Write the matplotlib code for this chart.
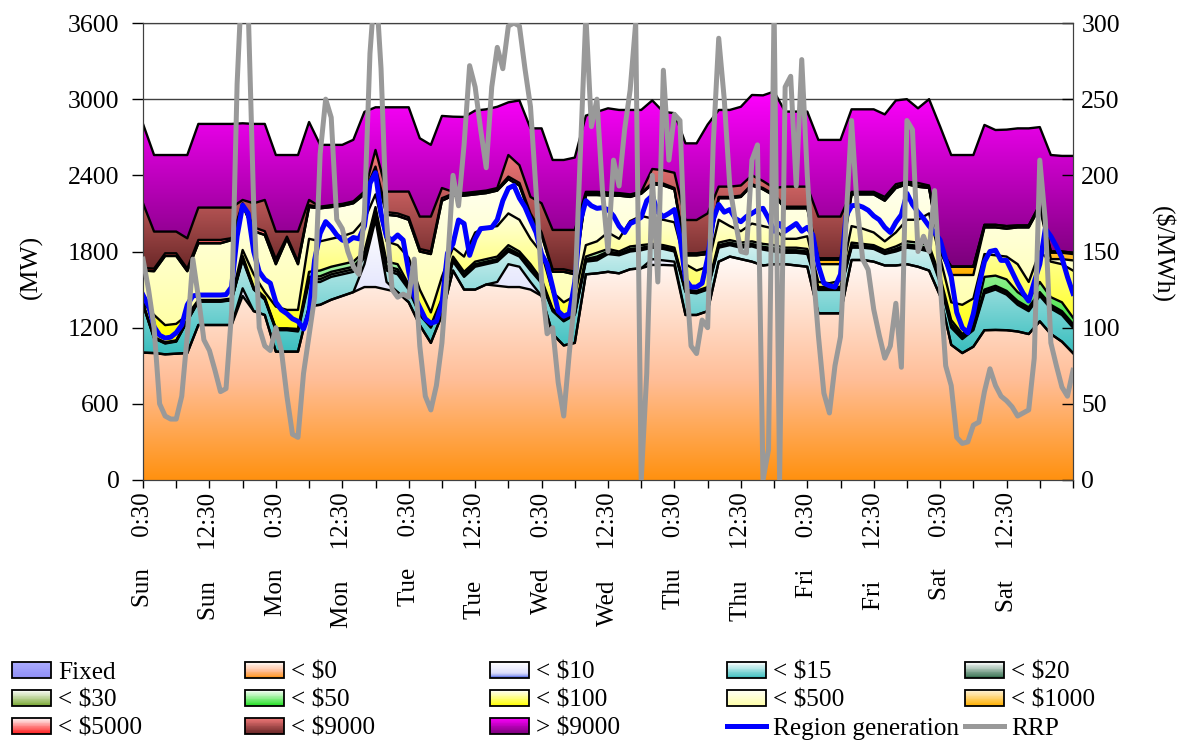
import numpy as np
import matplotlib
matplotlib.use("Agg")
import matplotlib.pyplot as plt
from matplotlib.colors import LinearSegmentedColormap
from matplotlib.patches import Rectangle, Patch
from matplotlib.lines import Line2D
from matplotlib.legend_handler import HandlerBase

plt.rcParams['font.family'] = ['Liberation Serif', 'DejaVu Serif']
FS = 18.5

# ---------------------------------------------------------------------------
# Week of half-hourly dispatch, sampled every 2 h for the price bands (MW per
# band, stacked bottom to top) and hourly for the two lines.
# Rows: Sun, Mon, Tue, Wed, Thu, Fri, Sat, then the closing sample.
# ---------------------------------------------------------------------------
tick_labels = ['Sun     0:30', 'Sun     12:30', 'Mon     0:30', 'Mon     12:30',
               'Tue     0:30', 'Tue     12:30', 'Wed     0:30', 'Wed     12:30',
               'Thu     0:30', 'Thu     12:30', 'Fri     0:30', 'Fri     12:30',
               'Sat     0:30', 'Sat     12:30']

fixed_mw = [0, 0, 0, 0, 0, 0, 0, 0, 0, 0, 0, 0,
            0, 0, 0, 0, 0, 0, 0, 0, 0, 0, 0, 0,
            0, 0, 0, 0, 0, 0, 0, 0, 0, 0, 0, 0,
            0, 0, 0, 0, 0, 0, 0, 0, 0, 0, 0, 0,
            0, 0, 0, 0, 0, 0, 0, 0, 0, 0, 0, 0,
            0, 0, 0, 0, 0, 0, 0, 0, 0, 0, 0, 0,
            0, 0, 0, 0, 0, 0, 0, 0, 0, 0, 0, 0,
            0]
lt0_mw = [1003, 1000, 990, 995, 1000, 1221, 1221, 1221, 1221, 1450, 1330, 1300,
          1011, 1011, 1011, 1370, 1380, 1420, 1450, 1480, 1520, 1520, 1500, 1480,
          1400, 1220, 1080, 1300, 1650, 1500, 1500, 1540, 1530, 1520, 1520, 1500,
          1450, 1150, 1060, 1080, 1620, 1628, 1640, 1628, 1660, 1668, 1694, 1694,
          1690, 1300, 1300, 1330, 1720, 1760, 1740, 1720, 1690, 1700, 1700, 1690,
          1680, 1313, 1313, 1313, 1733, 1733, 1720, 1690, 1690, 1700, 1680, 1650,
          1450, 1065, 1000, 1050, 1180, 1182, 1180, 1170, 1150, 1250, 1150, 1090,
          1000]
lt10_mw = [0, 0, 0, 0, 0, 0, 0, 0, 0, 60, 0, 0,
           0, 0, 0, 0, 0, 0, 0, 0, 180, 530, 60, 0,
           0, 0, 0, 0, 0, 0, 0, 0, 30, 180, 160, 60,
           0, 0, 0, 0, 0, 0, 0, 0, 0, 0, 46, 36,
           30, 0, 0, 0, 0, 0, 0, 0, 0, 0, 0, 0,
           0, 0, 0, 0, 0, 0, 0, 0, 0, 0, 0, 0,
           0, 0, 0, 0, 0, 0, 0, 0, 0, 0, 0, 0,
           0]
lt15_mw = [377, 115, 85, 95, 250, 184, 184, 184, 194, 223, 170, 120,
           169, 169, 159, 190, 180, 180, 170, 160, 50, 50, 90, 140,
           100, 80, 120, 100, 70, 100, 180, 160, 160, 100, 80, 90,
           100, 180, 190, 220, 100, 102, 140, 142, 140, 142, 90, 90,
           80, 180, 170, 170, 110, 90, 90, 120, 125, 100, 90, 100,
           100, 184, 184, 184, 97, 97, 100, 90, 110, 130, 140, 150,
           100, 135, 110, 130, 290, 318, 280, 210, 180, 200, 200, 210,
           200]
lt20_mw = [4, 3, 3, 3, 3, 2, 2, 2, 2, 8, 5, 5,
           5, 5, 5, 20, 22, 20, 20, 20, 12, 12, 18, 20,
           10, 5, 5, 8, 10, 10, 10, 10, 10, 12, 10, 12,
           8, 5, 5, 5, 10, 15, 10, 8, 10, 10, 8, 8,
           8, 5, 5, 5, 10, 10, 10, 10, 11, 12, 10, 10,
           10, 6, 6, 6, 10, 8, 8, 8, 10, 12, 12, 12,
           12, 15, 10, 10, 15, 15, 15, 15, 15, 15, 15, 15,
           15]
lt30_mw = [4, 3, 3, 3, 3, 2, 2, 2, 2, 8, 5, 5,
           5, 5, 5, 20, 23, 20, 20, 20, 13, 13, 17, 20,
           10, 5, 5, 7, 10, 10, 10, 10, 10, 13, 10, 13,
           7, 5, 5, 5, 10, 15, 10, 7, 10, 10, 7, 7,
           7, 5, 5, 5, 10, 10, 10, 10, 11, 13, 10, 10,
           10, 6, 6, 6, 10, 7, 7, 7, 10, 13, 13, 13,
           13, 15, 10, 10, 15, 15, 15, 15, 15, 15, 15, 15,
           15]
lt50_mw = [4, 4, 4, 4, 4, 3, 3, 3, 3, 16, 10, 10,
           5, 5, 10, 40, 45, 40, 40, 40, 25, 25, 35, 40,
           20, 10, 10, 15, 20, 20, 20, 20, 20, 25, 20, 25,
           15, 10, 10, 10, 20, 30, 20, 15, 20, 20, 15, 15,
           15, 10, 10, 10, 20, 20, 20, 20, 23, 25, 20, 20,
           20, 11, 11, 11, 20, 15, 15, 15, 20, 25, 25, 25,
           25, 30, 20, 20, 100, 80, 90, 70, 60, 80, 60, 70,
           50]
lt100_mw = [3, 175, 135, 130, 40, 6, 6, 6, 8, 47, 100, 40,
            171, 145, 150, 260, 230, 220, 220, 230, 250, 100, 160, 150,
            210, 180, 100, 170, 70, 120, 230, 250, 240, 250, 250, 200,
            210, 130, 130, 130, 90, 90, 130, 100, 200, 230, 200, 200,
            200, 200, 160, 160, 180, 110, 90, 140, 140, 130, 70, 70,
            100, 40, 30, 50, 130, 120, 100, 70, 110, 170, 180, 250,
            150, 140, 230, 210, 180, 160, 180, 220, 140, 240, 280, 300,
            370]
lt500_mw = [255, 345, 545, 535, 345, 447, 447, 447, 460, 353, 340, 450,
            334, 560, 360, 250, 260, 250, 240, 230, 200, 190, 210, 230,
            300, 300, 460, 600, 410, 480, 300, 270, 280, 270, 270, 180,
            140, 160, 240, 170, 395, 365, 290, 340, 190, 175, 270, 270,
            260, 70, 120, 100, 170, 220, 270, 300, 290, 260, 240, 240,
            220, 140, 150, 130, 250, 270, 300, 320, 350, 280, 260, 200,
            50, 215, 235, 185, 210, 220, 220, 290, 430, 350, 20, 40,
            80]
lt1000_mw = [0, 0, 0, 0, 0, 0, 0, 0, 0, 0, 0, 0,
             0, 0, 0, 0, 0, 0, 0, 0, 0, 0, 0, 0,
             0, 0, 0, 0, 0, 0, 0, 0, 0, 0, 0, 0,
             0, 0, 0, 0, 0, 0, 0, 0, 0, 0, 0, 0,
             0, 0, 0, 0, 0, 0, 0, 0, 0, 0, 0, 0,
             0, 35, 35, 35, 0, 0, 0, 0, 0, 0, 0, 0,
             0, 65, 65, 65, 0, 0, 0, 0, 0, 0, 50, 50,
             50]
lt5000_mw = [20, 20, 21, 21, 20, 26, 26, 26, 15, 15, 30, 30,
             40, 17, 20, 15, 10, 10, 10, 10, 10, 29, 20, 20,
             20, 20, 20, 20, 15, 10, 10, 10, 10, 20, 20, 20,
             20, 20, 20, 20, 10, 10, 10, 10, 10, 7, 10, 15,
             10, 16, 16, 20, 10, 10, 10, 10, 10, 10, 13, 13,
             13, 12, 12, 12, 10, 10, 10, 10, 10, 10, 10, 10,
             10, 1, 1, 1, 20, 20, 20, 15, 15, 20, 10, 10,
             10]
lt9000_mw = [510, 292, 171, 171, 239, 255, 255, 255, 241, 26, 190, 246,
             217, 40, 237, 41, 3, 5, 5, 5, 12, 131, 162, 172,
             202, 255, 275, 80, 15, 10, 10, 10, 10, 170, 140, 130,
             230, 310, 310, 330, 15, 15, 15, 10, 10, 8, 110, 105,
             120, 262, 262, 300, 81, 81, 80, 70, 55, 50, 158, 158,
             158, 328, 328, 328, 10, 10, 10, 20, 20, 10, 20, 10,
             20, 0, 0, 0, 0, 0, 0, 0, 0, 0, 0, 0,
             0]
gt9000_mw = [625, 603, 603, 603, 656, 659, 659, 659, 659, 604, 625, 599,
             603, 603, 603, 614, 487, 475, 465, 485, 628, 336, 664, 664,
             664, 617, 565, 568, 592, 600, 640, 640, 640, 415, 510, 540,
             590, 551, 551, 570, 600, 630, 663, 655, 665, 645, 540, 460,
             470, 604, 604, 700, 604, 604, 620, 633, 675, 760, 591, 591,
             591, 604, 604, 604, 650, 650, 650, 650, 660, 650, 588, 680,
             954, 879, 879, 879, 787, 747, 760, 765, 765, 610, 760, 753,
             763]

region_generation = [
    1457, 1370, 1208, 1140, 1118, 1125, 1160, 1220, 1380, 1450, 1457, 1457,
    1457, 1457, 1457, 1460, 1520, 1920, 2165, 2100, 1800, 1640, 1580, 1550,
    1400, 1340, 1310, 1270, 1250, 1190, 1315, 1733, 1943, 2035, 1990, 1930,
    1890, 1880, 1910, 1900, 2000, 2337, 2420, 2100, 1917, 1890, 1930, 1890,
    1640, 1450, 1360, 1270, 1234, 1250, 1390, 1786, 1860, 2048, 2020, 1770,
    1900, 1980, 1985, 1990, 2050, 2200, 2298, 2320, 2220, 2150, 2048, 1950,
    1780, 1700, 1520, 1330, 1290, 1310, 1560, 2040, 2200, 2160, 2140, 2145,
    2130, 2080, 2000, 1950, 2020, 2040, 2070, 2200, 2240, 2110, 2075, 2100,
    2130, 1917, 1580, 1520, 1520, 1550, 1750, 2050, 2170, 2110, 2130, 2060,
    2035, 2075, 2100, 2127, 2140, 2060, 1960, 2020, 1960, 1990, 2020, 1960,
    1990, 1930, 1690, 1550, 1530, 1520, 1620, 2080, 2160, 2165, 2150, 2125,
    2080, 2050, 1990, 1950, 2030, 2090, 2258, 2170, 2110, 2060, 2000, 1950,
    1890, 1740, 1600, 1320, 1200, 1160, 1310, 1530, 1720, 1800, 1810, 1730,
    1730, 1640, 1550, 1470, 1410, 1560, 1700, 1980, 1920, 1840, 1750, 1600,
    1470]
rrp = [
    145, 125, 100, 50, 42, 40, 40, 55, 95, 145, 120, 92,
    85, 72, 58, 60, 110, 260, 340, 310, 180, 100, 88, 85,
    100, 85, 55, 30, 28, 70, 95, 120, 214, 250, 238, 171,
    165, 150, 140, 135, 175, 280, 330, 270, 170, 125, 120, 122,
    120, 145, 88, 55, 46, 62, 90, 140, 200, 180, 220, 272,
    258, 230, 205, 258, 284, 270, 298, 300, 298, 270, 245, 190,
    131, 96, 100, 64, 42, 83, 120, 214, 305, 232, 250, 190,
    150, 210, 193, 230, 256, 300, 0, 70, 200, 130, 269, 210,
    240, 236, 140, 88, 83, 105, 100, 220, 290, 250, 193, 170,
    150, 149, 210, 220, 0, 20, 310, 0, 258, 265, 193, 276,
    200, 140, 95, 57, 44, 75, 94, 170, 236, 180, 145, 138,
    112, 95, 80, 88, 116, 74, 236, 230, 150, 160, 150, 190,
    130, 75, 62, 28, 24, 25, 36, 38, 58, 73, 62, 55,
    52, 48, 42, 44, 46, 80, 210, 170, 90, 75, 61, 55,
    72]

# price bands: label, MW, gradient stops (bottom -> top)
bands = [
    ('Fixed',     fixed_mw,  [(0, '#8E8EF4'), (1, '#ABABFF')]),
    (r'< \$0',    lt0_mw,    [(0, '#FF910F'), (0.45, '#FFBE98'), (1, '#FFFAF8')]),
    (r'< \$10',   lt10_mw,   [(0, '#4A64E6'), (0.3, '#DCDEFC'), (1, '#FFFFFF')]),
    (r'< \$15',   lt15_mw,   [(0, '#38BEBE'), (1, '#FFFFFF')]),
    (r'< \$20',   lt20_mw,   [(0, '#2F6B4A'), (1, '#FFFFFF')]),
    (r'< \$30',   lt30_mw,   [(0, '#79A832'), (1, '#FFFFFF')]),
    (r'< \$50',   lt50_mw,   [(0, '#22E022'), (1, '#FFFFFF')]),
    (r'< \$100',  lt100_mw,  [(0, '#FFFF00'), (1, '#FFFFFF')]),
    (r'< \$500',  lt500_mw,  [(0, '#FFFFA8'), (1, '#FFFFF6')]),
    (r'< \$1000', lt1000_mw, [(0, '#FFB000'), (1, '#FFF4DC')]),
    (r'< \$5000', lt5000_mw, [(0, '#FF1E1E'), (1, '#FFFFFF')]),
    (r'< \$9000', lt9000_mw, [(0, '#682626'), (1, '#F47A7A')]),
    (r'> \$9000', gt9000_mw, [(0, '#7A007A'), (1, '#FF00FF')]),
]

hours_band = np.arange(0, 169, 2)
hours_line = np.arange(0, 169, 1)
for name, vals, _ in bands:
    if len(vals) != len(hours_band):
        raise ValueError(f'{name}: {len(vals)} samples')
if len(region_generation) != len(hours_line) or len(rrp) != len(hours_line):
    raise ValueError('line length')

W, H = 1183, 740
fig = plt.figure(figsize=(W / 100, H / 100), dpi=100)
ax = fig.add_axes([143 / W, 1 - 480 / H, 930 / W, 457 / H])

stack = np.cumsum(np.array([b[1] for b in bands], dtype=float), axis=0)
lower = np.vstack([np.zeros(len(hours_band)), stack[:-1]])


def gradient_band(axis, x, lo, hi, stops, z):
    if np.all(hi - lo <= 0):
        return
    poly = axis.fill_between(x, lo, hi, facecolor='none', edgecolor='none', zorder=z)
    cmap = LinearSegmentedColormap.from_list('band', stops)
    grad = np.linspace(0, 1, 256).reshape(-1, 1)
    im = axis.imshow(grad, extent=(x[0], x[-1], lo.min(), hi.max()), origin='lower',
                     aspect='auto', cmap=cmap, vmin=0, vmax=1, zorder=z,
                     interpolation='bilinear')
    im.set_clip_path(poly.get_paths()[0], transform=axis.transData)


for i, (name, vals, stops) in enumerate(bands):
    gradient_band(ax, hours_band, lower[i], stack[i], stops, 1 + i * 0.01)
for i in range(1, len(bands)):
    ax.plot(hours_band, stack[i], color='black', lw=1.7, zorder=3, solid_joinstyle='round')

ax.plot(hours_line, region_generation, color='#0000FF', lw=3.6, zorder=4,
        solid_joinstyle='round')

ax.set_xlim(0, 168)
ax.set_ylim(0, 3600)
ax.set_yticks(np.arange(0, 3601, 600))
ax.yaxis.grid(True, color='#404040', lw=1)
ax.set_axisbelow(True)
ax.set_xticks(np.arange(0, 168, 12))
ax.set_xticklabels(tick_labels, rotation=90, fontsize=18)
ax.set_xticks(np.append(np.arange(6, 168, 12), 168), minor=True)
ax.tick_params(axis='x', which='both', direction='out', length=6, width=1, pad=3)
ax.tick_params(axis='y', direction='out', length=8, width=1, labelsize=FS, pad=9)
for sp in ax.spines.values():
    sp.set_color('#404040')

ax2 = ax.twinx()
ax2.plot(hours_line, rrp, color='#999999', lw=3.6, zorder=5, solid_joinstyle='round')
ax2.set_ylim(0, 300)
ax2.set_yticks(np.arange(0, 301, 50))
ax2.tick_params(axis='y', direction='in', length=8, width=1, labelsize=FS, pad=6)
for sp in ax2.spines.values():
    sp.set_color('#404040')
ax.set_xlim(0, 168)

fig.text(31 / W, 1 - 267 / H, '(MW)', rotation=90, ha='center', va='center', fontsize=FS)
fig.text(1163 / W, 1 - 255 / H, r'(\$/MWh)', rotation=270, ha='center', va='center',
         fontsize=FS)


class GradientPatchHandler(HandlerBase):
    def __init__(self, stops):
        super().__init__()
        self.cmap = LinearSegmentedColormap.from_list('legend', stops)

    def create_artists(self, legend, orig_handle, xdescent, ydescent, width, height,
                       fontsize, trans):
        n = 20
        arts = []
        for k in range(n):
            arts.append(Rectangle((-xdescent, -ydescent + height * k / n), width,
                                  height / n * 1.1, facecolor=self.cmap((k + 0.5) / n),
                                  edgecolor='none', transform=trans))
        arts.append(Rectangle((-xdescent, -ydescent), width, height, facecolor='none',
                              edgecolor='black', linewidth=1.3, transform=trans))
        return arts


entries = []
hmap = {}
for name, _, stops in bands:
    h = Patch()
    hmap[h] = GradientPatchHandler(stops)
    entries.append((h, name))
entries.append((Line2D([], [], color='#0000FF', lw=3.6), 'Region generation'))
entries.append((Line2D([], [], color='#999999', lw=3.6), 'RRP'))

col_x = [12, 245, 490, 727, 965]
for c in range(5):
    col = entries[c::5]
    fig.legend([e[0] for e in col], [e[1] for e in col], handler_map=hmap,
               loc='upper left', bbox_to_anchor=(col_x[c] / W, 1 - 662 / H),
               frameon=False, borderpad=0, borderaxespad=0, fontsize=18.2,
               handlelength=1.56, handleheight=0.58, handletextpad=0.25,
               labelspacing=0.23)

fig.savefig('out.png', dpi=100)
